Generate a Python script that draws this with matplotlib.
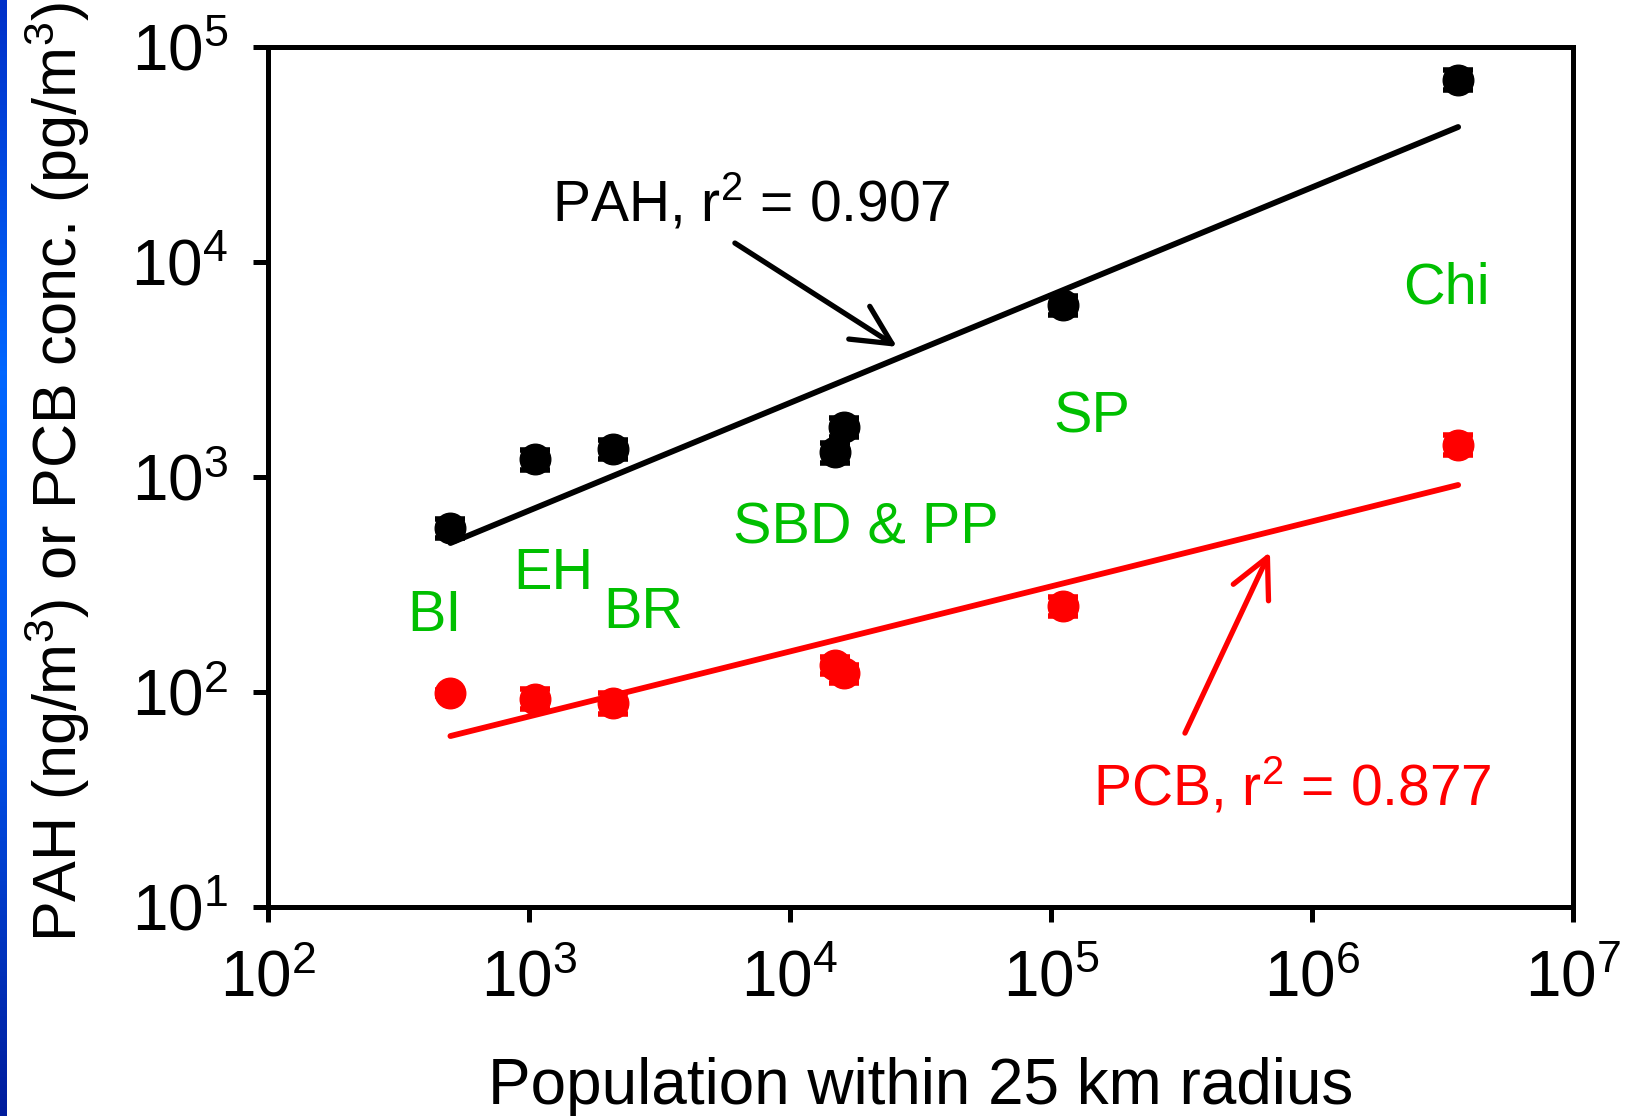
import numpy as np
import matplotlib
matplotlib.use("Agg")
import matplotlib.pyplot as plt
from matplotlib.ticker import FixedLocator, FuncFormatter
from matplotlib.colors import LinearSegmentedColormap

plt.rcParams['font.family'] = ['Liberation Sans', 'DejaVu Sans']
plt.rcParams['mathtext.fontset'] = 'custom'
plt.rcParams['mathtext.rm'] = 'Liberation Sans'
plt.rcParams['mathtext.it'] = 'Liberation Sans'

# population within 25 km for each site (BI, EH, BR, SBD, PP, SP, Chi)
population = [500, 1055, 2100, 14900, 16100, 111000, 3630000]
pah = [580, 1210, 1350, 1305, 1710, 6310, 70300]
pah_err = [60, 130, 140, 140, 180, 650, 7500]
pcb = [99, 93, 89, 133, 122, 251, 1410]
pcb_err = [3, 10, 10, 12, 12, 25, 150]

# regression line end points
fit_x = [500, 3630000]
pah_fit = [493, 42450]
pcb_fit = [62.4, 918]

site_labels = ["BI", "EH", "BR", "SBD & PP", "SP", "Chi"]
site_label_x = [341, 869, 1923, 6050, 101900, 2230000]
site_label_y = [192, 301, 198.6, 493, 1618, 6440]

green = '#00BF00'

fig = plt.figure(figsize=(16.31, 11.16), dpi=100)
ax = fig.add_axes([268 / 1631, 1 - 907 / 1116, (1573 - 268) / 1631, (907 - 47) / 1116])

# blue strip at the left edge
strip = fig.add_axes([0, 0, 7 / 1631, 1])
grad = np.linspace(0, 1, 256).reshape(-1, 1)
cmap = LinearSegmentedColormap.from_list('strip', ['#0030c8', '#0066ff', '#0050e8', '#001c9c'])
strip.imshow(grad, aspect='auto', cmap=cmap)
strip.axis('off')

ax.errorbar(population, pah, yerr=pah_err, fmt='o', color='black', ms=22,
            capsize=11, capthick=4, elinewidth=4, zorder=3)
ax.errorbar(population, pcb, yerr=pcb_err, fmt='o', color='red', ms=22,
            capsize=11, capthick=4, elinewidth=4, zorder=3)
ax.plot(fit_x, pah_fit, color='black', lw=4.2, solid_capstyle='round', zorder=4)
ax.plot(fit_x, pcb_fit, color='red', lw=4.2, solid_capstyle='round', zorder=4)

ax.set_xscale('log')
ax.set_yscale('log')
ax.set_xlim(1e2, 1e7)
ax.set_ylim(1e1, 1e5)

ax.xaxis.set_major_locator(FixedLocator([1e2, 1e3, 1e4, 1e5, 1e6, 1e7]))
ax.yaxis.set_major_locator(FixedLocator([1e1, 1e2, 1e3, 1e4, 1e5]))
ax.xaxis.set_minor_locator(FixedLocator([]))
ax.yaxis.set_minor_locator(FixedLocator([]))
fmt = FuncFormatter(lambda v, p: r'$\mathregular{10^{%d}}$' % round(np.log10(v)))
ax.xaxis.set_major_formatter(fmt)
ax.yaxis.set_major_formatter(fmt)
ax.tick_params(axis='both', which='major', direction='out', length=10.5, width=3.6,
               labelsize=46)
ax.tick_params(axis='x', pad=20)
ax.tick_params(axis='y', pad=18)
for s in ax.spines.values():
    s.set_linewidth(3.6)

ax.set_xlabel('Population within 25 km radius', fontsize=46, labelpad=34)
ax.set_ylabel(r'PAH (ng/m$\mathregular{^3}$) or PCB conc. (pg/m$\mathregular{^3}$)',
              fontsize=44)
ax.yaxis.set_label_coords(-0.135, 0.506)

for lab, lx, ly in zip(site_labels, site_label_x, site_label_y):
    ax.text(lx, ly, lab, color=green, fontsize=41.5, ha='left', va='baseline')

ax.text(1225, 15350, r'PAH, r$\mathregular{^2}$ = 0.907', fontsize=41,
        color='black', ha='left', va='baseline')
ax.annotate('', xy=(25700, 4030), xytext=(6150, 12250),
            arrowprops=dict(arrowstyle='->, head_length=1.4, head_width=0.7',
                            color='black', lw=3.8, mutation_scale=20,
                            shrinkA=0, shrinkB=0))
ax.text(145000, 29.8, r'PCB, r$\mathregular{^2}$ = 0.877', fontsize=41,
        color='red', ha='left', va='baseline')
ax.annotate('', xy=(690000, 448), xytext=(326000, 64.4),
            arrowprops=dict(arrowstyle='->, head_length=1.4, head_width=0.7',
                            color='red', lw=3.8, mutation_scale=20,
                            shrinkA=0, shrinkB=0))

fig.savefig('out.png', dpi=100)
